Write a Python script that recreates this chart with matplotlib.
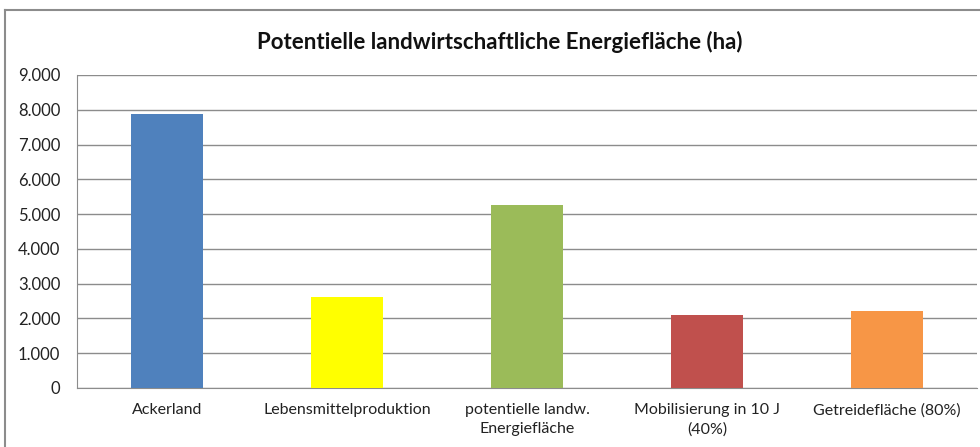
import matplotlib
matplotlib.use("Agg")
import matplotlib.pyplot as plt
from matplotlib.lines import Line2D
from matplotlib.ticker import FuncFormatter, MultipleLocator

categories = [
    "Ackerland",
    "Lebensmittelproduktion",
    "potentielle landw.\nEnergiefläche",
    "Mobilisierung in 10 J\n(40%)",
    "Getreidefläche (80%)",
]
values = [7870, 2620, 5260, 2090, 2210]
colors = ["#4f81bd", "#ffff00", "#9bbb59", "#c0504d", "#f79646"]

plt.rcParams["font.family"] = ["Lato", "DejaVu Sans"]

fig = plt.figure(figsize=(9.8, 4.47), dpi=100)
ax = fig.add_axes([77 / 980, 59 / 447, 900 / 980, 313 / 447])

x = range(len(categories))
ax.bar(x, values, width=0.4, color=colors, zorder=3)

ax.set_xlim(-0.5, len(categories) - 0.5)
ax.set_ylim(0, 9000)
ax.yaxis.set_major_locator(MultipleLocator(1000))
ax.yaxis.set_major_formatter(FuncFormatter(lambda v, p: f"{int(v):,}".replace(",", ".")))
ax.grid(axis="y", color="#8c8c8c", linewidth=1, zorder=0)

ax.set_xticks(list(x))
ax.set_xticklabels(categories, fontsize=11.5, color="#222222", linespacing=1.45)
ax.tick_params(axis="x", length=0, pad=11)
ax.tick_params(axis="y", length=0, pad=12, labelsize=12, labelcolor="#222222")

for side in ["top", "right"]:
    ax.spines[side].set_visible(False)
ax.spines["left"].set_color("#8c8c8c")
ax.spines["bottom"].set_color("#8c8c8c")

fig.text(0.51, 0.906, "Potentielle landwirtschaftliche Energiefläche (ha)",
         ha="center", va="center", fontsize=16, fontweight="bold", color="#111111")

# outer chart border (cut off at right and bottom)
fig.add_artist(Line2D([5 / 980, 5 / 980], [0, 1 - 10 / 447], color="#8c8c8c", linewidth=1.5))
fig.add_artist(Line2D([5 / 980, 1], [1 - 10 / 447, 1 - 10 / 447], color="#8c8c8c", linewidth=1.5))

fig.savefig("out.png", dpi=100)
